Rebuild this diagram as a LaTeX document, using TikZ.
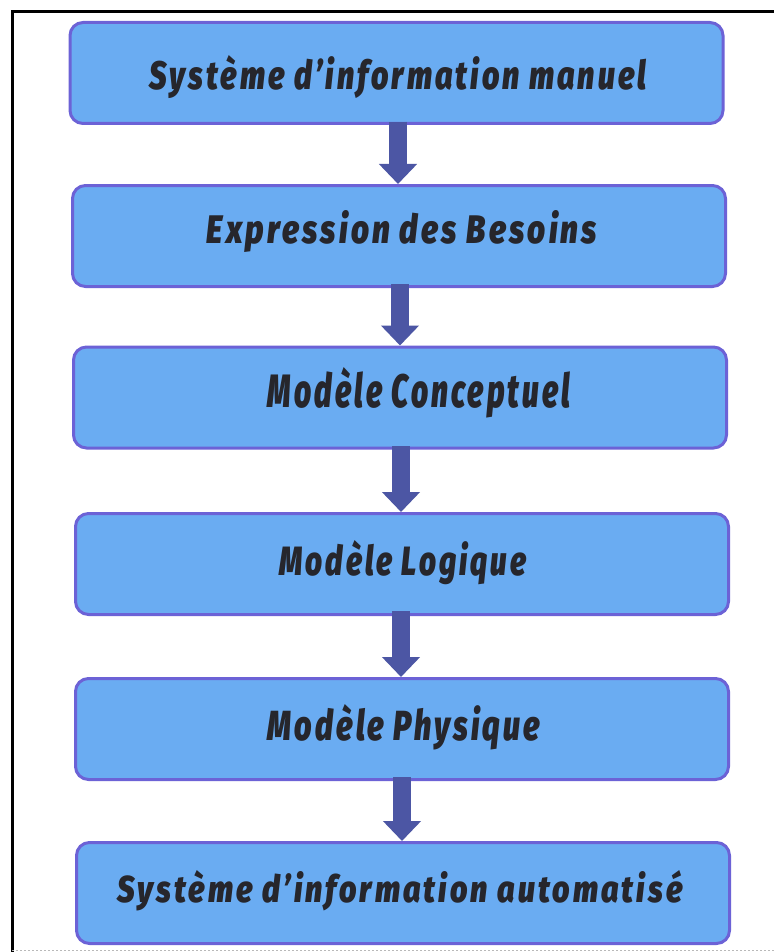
\documentclass[tikz,border=0pt]{standalone}
\usepackage{fontspec}
\setmainfont{Fira Sans}[BoldItalicFont={Fira Sans Black Italic}]
\usepackage{graphicx}
\usetikzlibrary{arrows.meta}
\definecolor{boxfill}{RGB}{106,172,242}
\definecolor{boxline}{RGB}{108,98,214}
\definecolor{arrowc}{RGB}{76,86,164}
\definecolor{txtc}{RGB}{38,38,44}
\newcommand{\steplbl}[3]{\resizebox{#1pt}{#2pt}{\bfseries\itshape\addfontfeature{LetterSpace=10}#3}}
\begin{document}
\begin{tikzpicture}[x=1pt,y=-1pt,
  stepbox/.style={draw=boxline, fill=boxfill, line width=3pt, rounded corners=13pt,
    minimum width=653pt, minimum height=101pt, inner sep=0pt},
  steplabel/.style={anchor=base, inner sep=0pt, text=txtc},
  flow/.style={arrowc, line width=18pt, -{Triangle[width=37pt,length=20pt]}}]
\useasboundingbox (0,0) rectangle (774,952);
\fill[white] (0,0) rectangle (774,952);
% frame
\draw[line width=3pt] (12,952) -- (12,12) -- (774,12);
\draw[gray!55, line width=1pt, dash pattern=on 2pt off 2pt] (12,950) -- (774,950);
% boxes
\node[stepbox] (b1) at (396.5,73) {};
\node[stepbox] (b2) at (399,236) {};
\node[stepbox] (b3) at (400,397.5) {};
\node[stepbox] (b4) at (402,564) {};
\node[stepbox] (b5) at (402,729) {};
\node[stepbox] (b6) at (403,893) {};
% arrows
\coordinate (a1) at (398,122);
\coordinate (a2) at (400,284);
\coordinate (a3) at (401,446);
\coordinate (a4) at (401,611);
\coordinate (a5) at (402,777);
\draw[flow] (a1) -- (a1 |- b2.north);
\draw[flow] (a2) -- (a2 |- b3.north);
\draw[flow] (a3) -- (a3 |- b4.north);
\draw[flow] (a4) -- (a4 |- b5.north);
\draw[flow] (a5) -- (a5 |- b6.north);
% labels
\node[steplabel] (t1) at (398,90) {\steplbl{497}{34}{Système d'information manuel}};
\node[steplabel] (t2) at (402,243) {\steplbl{390}{33}{Expression des Besoins}};
\node[steplabel] (t3) at (419,407) {\steplbl{302}{40}{Modèle Conceptuel}};
\node[steplabel] (t4) at (403,575) {\steplbl{247}{35}{Modèle Logique}};
\node[steplabel] (t5) at (404,740) {\steplbl{272}{36}{Modèle Physique}};
\node[steplabel] (t6) at (400,902) {\steplbl{565}{32}{Système d'information automatisé}};
\end{tikzpicture}
\end{document}
